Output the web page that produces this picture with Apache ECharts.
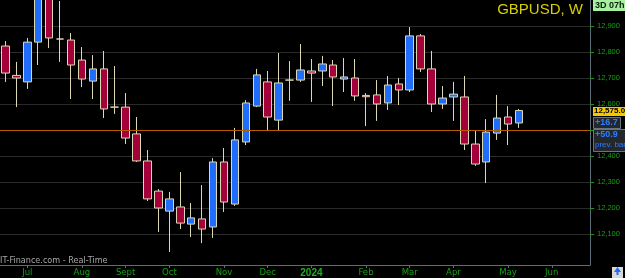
<!DOCTYPE html>
<html><head><meta charset="utf-8">
<script src="https://cdn.jsdelivr.net/npm/echarts@6/dist/echarts.min.js"></script>
<style>html,body{margin:0;padding:0;background:#000}#c{width:625px;height:278px}</style>
</head><body><div id="c"></div>
<script>
const weeks = ['2023-06-19','2023-06-26','2023-07-03','2023-07-10','2023-07-17','2023-07-24','2023-07-31','2023-08-07','2023-08-14','2023-08-21','2023-08-28','2023-09-04','2023-09-11','2023-09-18','2023-09-25','2023-10-02','2023-10-09','2023-10-16','2023-10-23','2023-10-30','2023-11-06','2023-11-13','2023-11-20','2023-11-27','2023-12-04','2023-12-11','2023-12-18','2023-12-25','2024-01-01','2024-01-08','2024-01-15','2024-01-22','2024-01-29','2024-02-05','2024-02-12','2024-02-19','2024-02-26','2024-03-04','2024-03-11','2024-03-18','2024-03-25','2024-04-01','2024-04-08','2024-04-15','2024-04-22','2024-04-29','2024-05-06','2024-05-13','2024-05-20','2024-05-27','2024-06-03','2024-06-10','2024-06-17','2024-06-24'];
const opens  = [12823,12710,12685,12838,13085,12850,12846,12769,12688,12735,12588,12588,12485,12381,12265,12188,12204,12138,12158,12127,12377,12215,12454,12592,12685,12538,12692,12692,12727,12727,12750,12696,12700,12633,12635,12604,12677,12654,12862,12735,12600,12627,12627,12446,12377,12488,12550,12527];
const closes = [12719,12700,12838,13090,12854,12850,12750,12696,12735,12581,12588,12469,12381,12235,12200,12235,12142,12162,12119,12377,12223,12462,12604,12712,12550,12681,12692,12731,12719,12754,12704,12704,12631,12628,12600,12673,12654,12862,12735,12600,12623,12638,12446,12369,12492,12546,12523,12575];
const lows   = [12685,12588,12658,12750,12815,12762,12619,12665,12619,12546,12562,12446,12377,12227,12108,12031,12119,12088,12065,12085,12185,12208,12442,12588,12500,12500,12612,12685,12608,12669,12592,12646,12612,12515,12535,12577,12596,12646,12723,12569,12581,12535,12423,12362,12296,12462,12442,12508];
const highs  = [12842,12762,12854,13140,13110,12996,12873,12819,12788,12804,12746,12642,12550,12423,12273,12262,12338,12219,12288,12392,12431,12508,12615,12735,12727,12796,12765,12831,12773,12785,12769,12777,12773,12642,12692,12708,12700,12896,12869,12804,12669,12685,12708,12500,12542,12635,12592,12581];
const yTicks = [12100,12200,12300,12400,12500,12600,12700,12800,12900];
const tickIdx = [2,7,11,15,20,24,28,33,37,41,46,50];
const tickNames = ['Jul','Aug','Sept','Oct','Nov','Dec','2024','Feb','Mar','Apr','May','Jun'];
const refLevel = 12500;
const title = 'GBPUSD, W';
const timerText = '3D 07h';
const priceText = '12,575.0';
const chgText = '+16.7';
const prevText = '+50.9';
const watermark = 'IT-Finance.com - Real-Time';

const candles = opens.map((o, i) => [o, closes[i], lows[i], highs[i]]);
const green = '#16a016';
const axisCol = '#5c6c7a';

const chart = echarts.init(document.getElementById('c'), null, {renderer: 'canvas'});
chart.setOption({
  backgroundColor: '#000',
  animation: false,
  grid: {left: 0, right: 35, top: 0, height: 265, containLabel: false},
  xAxis: {
    type: 'category', data: weeks, boundaryGap: true,
    axisLine: {show: true, lineStyle: {color: axisCol, width: 1}},
    axisTick: {show: true, alignWithLabel: true, length: 3, lineStyle: {color: axisCol},
      interval: (i) => tickIdx.includes(i)},
    axisLabel: {interval: (i) => tickIdx.includes(i), margin: 3, color: green,
      fontFamily: 'Liberation Sans Narrow, DejaVu Sans Condensed, Liberation Sans, sans-serif', fontSize: 9.5,
      formatter: (v, i) => { const n = tickNames[tickIdx.indexOf(i)] || ''; return n === '2024' ? '{b|' + n + '}' : n; },
      rich: {b: {fontWeight: 'bold', color: '#20b020', fontSize: 10, fontFamily: 'Liberation Sans, sans-serif'}}},
    splitLine: {show: false}
  },
  yAxis: {
    type: 'value', position: 'right', min: 11980.77, max: 13000, scale: true,
    axisLine: {show: true, lineStyle: {color: axisCol, width: 1}},
    axisTick: {show: true, length: 4, lineStyle: {color: green}, customValues: yTicks},
    axisLabel: {customValues: yTicks, margin: 7, color: green, fontSize: 7.5,
      fontFamily: 'Liberation Sans, Arial, sans-serif',
      formatter: (v) => Number(v).toLocaleString('en-US')},
    splitLine: {show: true, lineStyle: {color: '#2a2a2a', width: 1}}
  },
  series: [{
    type: 'candlestick', data: candles, barWidth: 8,
    itemStyle: {color: '#1f6dfa', color0: '#a4003a', borderColor: '#ddd8b4', borderColor0: '#ddd8b4', borderWidth: 1},
    markLine: {silent: true, symbol: 'none', label: {show: false},
      lineStyle: {color: '#b85c00', width: 1, type: 'solid'}, data: [{yAxis: refLevel}]}
  }]
});

const yc = chart.convertToPixel({yAxisIndex: 0}, closes[closes.length - 1]);
const blue = '#2d7dff';
chart.setOption({graphic: [
  {type: 'text', right: 42, top: 2, z: 100, style: {text: title, fill: '#d6d000', font: '15px Liberation Sans, Arial, sans-serif'}},
  {type: 'rect', left: 593, top: 0, z: 100, shape: {width: 32, height: 11}, style: {fill: '#a6f0a0'}},
  {type: 'text', left: 595, top: 1, z: 101, style: {text: timerText, fill: '#0c200c', font: 'bold 9px Liberation Sans, Arial, sans-serif'}},
  {type: 'rect', left: 593, top: Math.round(yc - 4), z: 100, shape: {width: 33, height: 9}, style: {fill: '#f6c800'}},
  {type: 'text', left: 594, top: Math.round(yc - 4), z: 101, style: {text: priceText, fill: '#000', font: 'bold 8px Liberation Sans, Arial, sans-serif'}},
  {type: 'rect', left: 593, top: Math.round(yc + 6), z: 100, shape: {width: 27, height: 11}, style: {fill: '#23272e', stroke: '#6a7480', lineWidth: 1}},
  {type: 'text', left: 595, top: Math.round(yc + 7), z: 101, style: {text: chgText, fill: blue, font: 'bold 9px Liberation Sans, Arial, sans-serif'}},
  {type: 'rect', left: 593, top: Math.round(yc + 18), z: 100, shape: {width: 34, height: 22}, style: {fill: '#23272e', stroke: '#6a7480', lineWidth: 1}},
  {type: 'text', left: 595, top: Math.round(yc + 19), z: 101, style: {text: prevText, fill: blue, font: 'bold 9px Liberation Sans, Arial, sans-serif'}},
  {type: 'text', left: 595, top: Math.round(yc + 30), z: 101, style: {text: 'prev. bar', fill: blue, font: '8px Liberation Sans, Arial, sans-serif'}},
  {type: 'text', left: 0, top: 256, z: 100, style: {text: watermark, fill: '#a8a8a8', font: '9px Liberation Sans Narrow, DejaVu Sans Condensed, Liberation Sans, sans-serif'}},
  {type: 'rect', left: 612, top: 267, z: 100, shape: {width: 11, height: 11}, style: {fill: '#d8d8d8'}},
  {type: 'polygon', z: 101, shape: {points: [[617.5, 267], [614, 272], [621, 272]]}, style: {fill: '#1f6dfa'}},
  {type: 'rect', left: 616.5, top: 271, z: 101, shape: {width: 2, height: 4}, style: {fill: '#1f6dfa'}}
]});
</script></body></html>
